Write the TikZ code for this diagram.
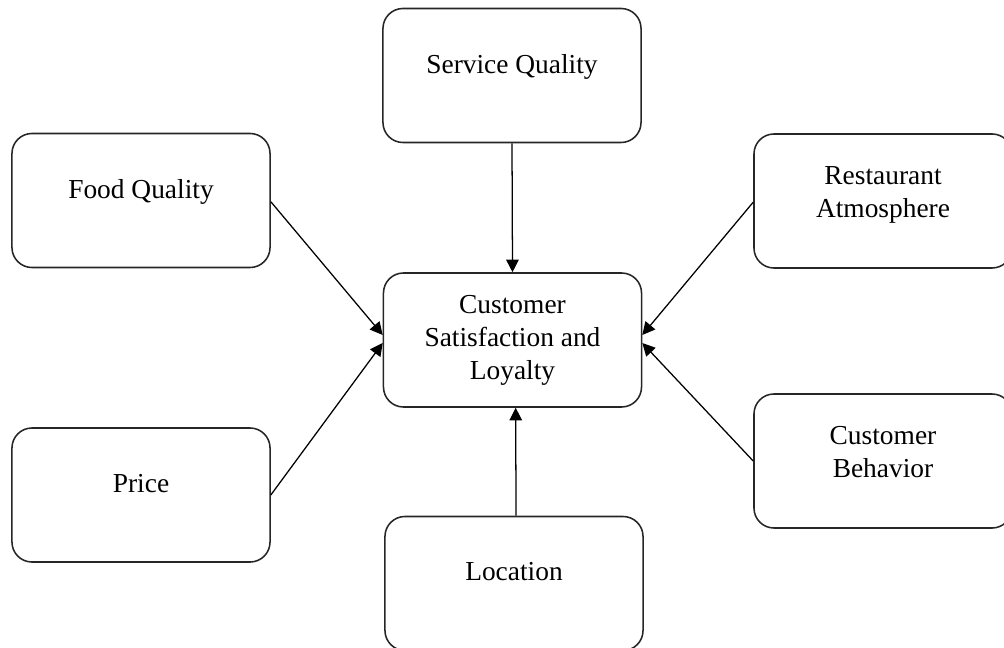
\documentclass[tikz,border=0pt]{standalone}
\usepackage{fontspec}
\setmainfont{Liberation Serif}
\usepackage{tikz}
\usetikzlibrary{arrows.meta}

\begin{document}
\begin{tikzpicture}[x=0.025cm, y=-0.025cm,
  box/.style={draw=black!85, line width=1.1pt, rounded corners=0.5cm,
    minimum width=6.45cm, minimum height=3.35cm, align=center,
    font=\fontsize{19.5}{23.5}\selectfont},
  oneline/.style={box, text depth=16.8pt},
  twoline/.style={box, text depth=13pt},
  arr/.style={-{Triangle[length=9pt, width=9pt]}, line width=0.9pt}]
\useasboundingbox (0,0) rectangle (1004,648);
% draw the factor boxes
\node[oneline] (serv)  at (512, 75.5)  {Service Quality};
\node[oneline] (food)  at (141, 200.5) {Food Quality};
\node[twoline] (atmo)  at (883, 201)   {Restaurant\\Atmosphere};
\node[box]     (cent)  at (512.5, 340) {Customer\\Satisfaction and\\Loyalty};
\node[oneline] (price) at (141, 495)   {Price};
\node[twoline] (behav) at (883, 461)   {Customer\\Behavior};
\node[oneline] (loc)   at (514, 583.5) {Location};
%
% draw arrows into the centre box
\draw[arr] (serv.south) -- (cent.north);
\draw[arr] ([xshift=0.05cm]loc.north)   -- ([xshift=0.08cm]cent.south);
\draw[arr] ([yshift=-0.03cm]food.east)  -- ([yshift=0.125cm]cent.west);
\draw[arr] (price.east)                 -- ([yshift=-0.075cm]cent.west);
\draw[arr] ([yshift=-0.03cm]atmo.west)  -- ([yshift=0.125cm]cent.east);
\draw[arr] (behav.west)                 -- ([yshift=-0.075cm]cent.east);
\end{tikzpicture}
\end{document}
